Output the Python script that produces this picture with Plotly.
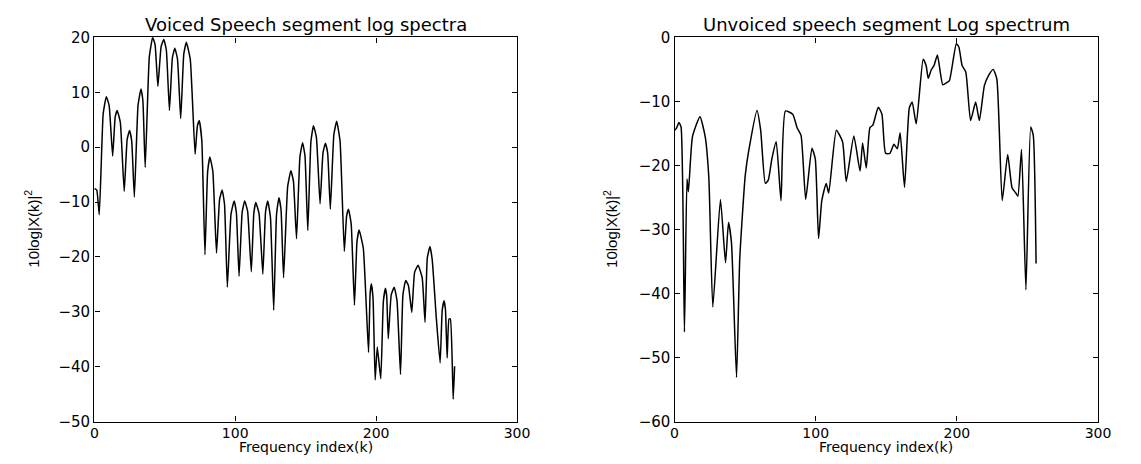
import plotly.graph_objects as go

# Voiced speech segment log spectrum (peaks, shoulders and dips)
voiced_k = [0, 1.7, 3.5, 6.25, 8.5, 10.5, 13, 14.8, 16.2, 18.45, 21.2, 23.3, 25, 26.5, 28.4,
            31.0, 33.1, 34.45, 36.1, 39.0, 41.4, 43.1, 45.1, 47.4, 49.3, 51.1, 53.3, 55.4, 57.1,
            59.0, 61.3, 63.5, 65.3, 68.1, 71.5, 73.15, 74.5, 76.3, 78.5, 80.4, 82, 84.1, 86.7,
            88.9, 90.7, 92.4, 94.4, 97.0, 99.2, 100.8, 102.7, 104.9, 106.7, 108.8, 111.4, 113.2,
            114.6, 116.9, 119.6, 121.5, 123.1, 125, 127.3, 129.3, 131, 132.5, 134.3, 137.2, 139.5,
            141.3, 143.5, 145.9, 147.8, 149.5, 151.5, 153.7, 155.5, 157.6, 160.2, 162.3, 164,
            165.6, 167.5, 170, 172, 174.4, 177.4, 179.05, 180.4, 182.3, 184.6, 186.4, 187.9,
            190.9, 194.6, 195.7, 196.6, 197.8, 199.3, 200.8, 203.3, 205.1, 206.6, 207.5, 208.6,
            210.7, 212.8, 214.8, 217.3, 219, 221, 222.9, 225.3, 227.3, 229.8, 232.7, 234.7,
            236.3, 238.2, 239.8, 242.7, 245.4, 246.9, 248.2, 249.2, 250.4, 251.7, 252.7, 254.7,
            255.7]
voiced_db = [-7.5, -7.8, -12.3, 6.0, 9.2, 7.6, -1.6, 5.5, 6.7, 4.5, -8.05, 1.4, 3.05, 1.2, -9.1,
             7.6, 10.6, 8.5, -3.7, 16.4, 20, 18.7, 11.1, 18.3, 19.6, 17.7, 6.7, 16.3, 18,
             16.1, 5.2, 17.0, 19.1, 16.0, -1.3, 3.9, 4.8, 1.1, -19.6, -4.5, -1.8, -4.4, -19.3,
             -9.5, -7.8, -10.4, -25.5, -12.2, -9.8, -11.9, -23.5, -11.9, -9.8, -11.7, -22.7, -12.0,
             -10.1, -12.1, -23.1, -11.8, -9.8, -12.8, -29.7, -12.3, -9.2, -11.4, -23.8, -7.2, -4.3,
             -6.2, -16.7, -1.8, 0.8, -1.6, -15.2, 1.0, 3.9, 1.8, -10.3, -1.0, 0.7,
             -1.1, -11.3, 2.3, 4.7, 1.1, -19, -12.5, -11.3, -14, -28.8, -17.2, -15.1,
             -18.4, -37.4, -26.8, -24.9, -27.5, -42.4, -36.4, -42.2, -28.2, -25.7, -27.1, -34.9,
             -26.9, -25.5, -27.9, -41.4, -26.9, -24.3, -25.2, -30.1, -22.8, -21.5, -23.8, -31.9,
             -20.2, -18.1, -20.5, -31.1, -39.3, -29.7, -28, -29.6, -38.4, -31.3, -31.3, -45.9,
             -39.9]

# Unvoiced speech segment log spectrum
unvoiced_k = [0, 1.3, 3.1, 4.6, 7, 8.8, 9.8, 12.7, 18, 21.7, 24.3, 27.1, 32.5, 36.1, 38.2, 40.3,
              43.9, 46.2, 50.1, 52.7, 58.4, 61, 64.3, 66.4, 68.9, 72, 75.4, 78.5, 83.7, 86.8,
              89.6, 92.9, 97.3, 99.7, 102, 104.3, 107.4, 109.2, 114.6, 119, 121.6, 127, 131.4,
              133.2, 135.8, 138.4, 140.5, 144.3, 146.9, 149.5, 152.6, 155.4, 157.8, 159.8,
              162.9, 166.3, 168.3, 171.2, 176.1, 178.2, 179.7, 181.8, 183.8, 186.2, 190, 192.6,
              194.7, 199.6, 201.4, 203.7, 206.3, 209.7, 213.3, 215.9, 219.5, 222.3, 225.7,
              228.3, 232.1, 236, 239.1, 241.7, 243.2, 245.8, 248.9, 252.3, 254.1, 256.1]
unvoiced_db = [-14.5, -14.2, -13.3, -14, -46, -22.1, -24.1, -15.5, -12.4, -15.5, -22, -42.1, -25.3,
               -35.2, -28.9, -32, -53.1, -34.5, -21.5, -17.5, -11.4, -14.5, -22.8, -22.3, -19,
               -16.3, -25.5, -11.5, -12, -14.1, -15.3, -25.3, -17.3, -19, -31.4, -25.5, -22.8,
               -24.3, -14.5, -16.3, -22.5, -15.4, -20.9, -16.5, -20.4, -14.1, -13.7, -10.9, -12,
               -18.1, -18.1, -16.7, -17.4, -14.9, -23.4, -11, -10.1, -13.5, -3.4, -4.4, -6.4,
               -5.1, -4.4, -2.75, -7.4, -7.1, -6.75, -1, -1.5, -4.4, -5.4, -13, -10.1, -13,
               -7.5, -6, -5, -6.5, -25.5, -18.3, -23.5, -24.3, -24.8, -17.5, -39.4, -14, -15.3,
               -35.3]

titles = ["Voiced Speech segment log spectra", "Unvoiced speech segment Log spectrum"]
x_title = "Frequency index(k)"
y_title = "10log|X(k)|<sup>2</sup>"
x_ticks = [0, 100, 200, 300]

W, H = 1141, 464
FONT = "DejaVu Sans, Liberation Sans, Arial, sans-serif"

fig = go.Figure()
fig.add_trace(go.Scatter(x=voiced_k, y=voiced_db, mode="lines",
                         line=dict(color="black", width=1.5, shape="spline", smoothing=0.4),
                         xaxis="x", yaxis="y", showlegend=False))
fig.add_trace(go.Scatter(x=unvoiced_k, y=unvoiced_db, mode="lines",
                         line=dict(color="black", width=1.5, shape="spline", smoothing=0.5),
                         xaxis="x2", yaxis="y2", showlegend=False))

left_dom = [91.7 / W, 520.8 / W]
right_dom = [680.7 / W, 1110.6 / W]
y_dom = [(H - 429.3) / H, (H - 29.5) / H]

ax_common = dict(showgrid=False, zeroline=False, showline=True, linecolor="black",
                 linewidth=1.4, mirror="allticks", ticks="inside", ticklen=5,
                 tickcolor="black", tickwidth=1)
y_font = dict(family=FONT, size=15, color="black")
x_font = dict(family=FONT, size=14, color="black")

fig.update_layout(
    width=W, height=H, margin=dict(l=0, r=0, t=0, b=0),
    paper_bgcolor="white", plot_bgcolor="white",
    xaxis=dict(domain=left_dom, range=[0, 300], tickvals=x_ticks, anchor="y",
               tickfont=x_font, ticklabelstandoff=-2, **ax_common),
    yaxis=dict(domain=y_dom, range=[-50, 20], dtick=10, anchor="x", tickfont=y_font, **ax_common),
    xaxis2=dict(domain=right_dom, range=[0, 300], tickvals=x_ticks, anchor="y2",
                tickfont=x_font, ticklabelstandoff=-2, **ax_common),
    yaxis2=dict(domain=y_dom, range=[-60, 0], dtick=10, anchor="x2", tickfont=y_font, **ax_common),
)

ann = []
for dom, t, yx in [(left_dom, titles[0], 28), (right_dom, titles[1], 615)]:
    cx = (dom[0] + dom[1]) / 2
    ann.append(dict(text=t, x=cx, y=1 - 16 / H, xref="paper", yref="paper",
                    xanchor="center", yanchor="middle", showarrow=False,
                    font=dict(family=FONT, size=18, color="black")))
    ann.append(dict(text=x_title, x=cx, y=1 - 456 / H, xref="paper", yref="paper",
                    xanchor="center", yanchor="middle", showarrow=False,
                    font=dict(family=FONT, size=14, color="black")))
    ann.append(dict(text=y_title, x=yx / W, y=1 - 229 / H, xref="paper", yref="paper",
                    xanchor="center", yanchor="middle", showarrow=False, textangle=-90,
                    font=dict(family="Liberation Sans Narrow, Liberation Sans, Arial, sans-serif",
                              size=15, color="black")))
fig.update_layout(annotations=ann)

fig.write_html("out.html")
